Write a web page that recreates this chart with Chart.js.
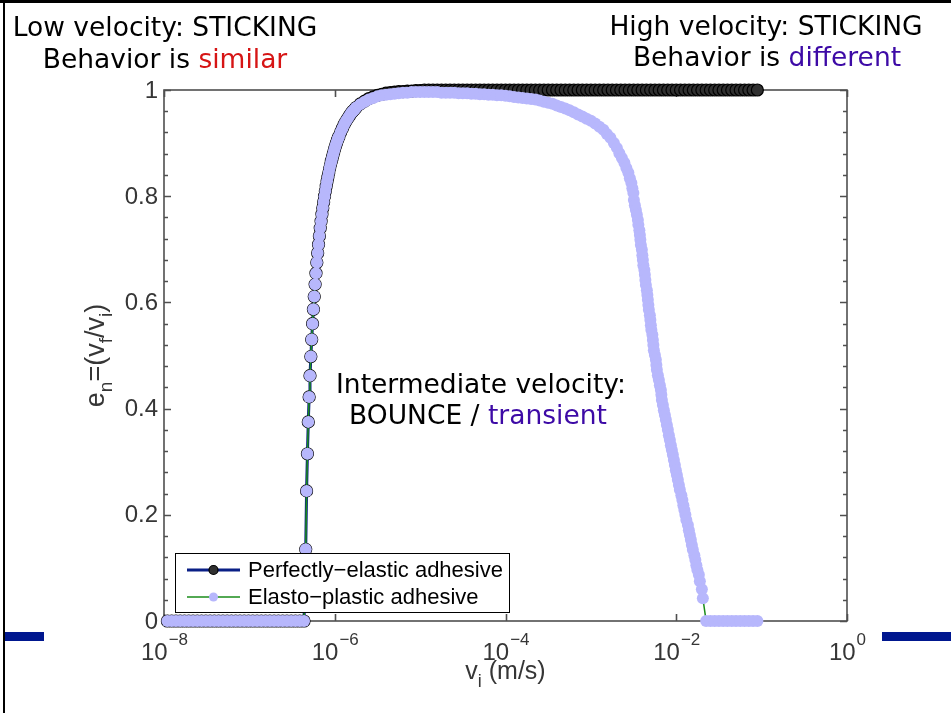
<!DOCTYPE html>
<html>
<head>
<meta charset="utf-8">
<script src="https://cdn.jsdelivr.net/npm/chart.js@4/dist/chart.umd.min.js"></script>
<style>
  html, body { margin: 0; padding: 0; background: #fff; }
  #page { position: relative; width: 951px; height: 713px; overflow: hidden; background: #fff; }
  #plot { position: absolute; left: 0; top: 0; }
  .frame-top { position: absolute; left: 0; top: 0; width: 951px; height: 2.5px; background: #000; }
  .frame-left { position: absolute; left: 3px; top: 0; width: 2px; height: 713px; background: #000; }
  .bar { position: absolute; top: 632px; height: 9px; background: #00178f; }
  .note { position: absolute; font-family: "DejaVu Sans", sans-serif; font-size: 26.5px; line-height: 26.5px;
          white-space: nowrap; color: #000; transform: translateX(-50%); }
  .red { color: #d61515; }
  .violet { color: #3d0aa6; }
</style>
</head>
<body>
<div id="page">
  <canvas id="plot" width="951" height="713"></canvas>
  <div class="frame-top"></div>
  <div class="frame-left"></div>
  <div class="bar" style="left:5px;width:39px"></div>
  <div class="bar" style="left:882px;width:69px"></div>

  <div class="note" style="left:165px;top:13.6px">Low velocity: STICKING</div>
  <div class="note" style="left:165px;top:45.6px">Behavior is <span class="red">similar</span></div>
  <div class="note" style="left:766px;top:12.6px">High velocity: STICKING</div>
  <div class="note" style="left:767px;top:44px">Behavior is <span class="violet">different</span></div>
  <div class="note" style="left:481px;top:370.6px">Intermediate velocity:</div>
  <div class="note" style="left:478px;top:401.6px">BOUNCE / <span class="violet">transient</span></div>
</div>

<script>
// ---- impact velocity v_i (m/s) and restitution e_n ----

// sticking at low velocity (both models)
const lowStickV = [
  1.096e-8, 1.230e-8, 1.380e-8, 1.549e-8, 1.738e-8, 1.950e-8, 2.188e-8, 2.455e-8, 2.754e-8, 3.090e-8,
  3.467e-8, 3.890e-8, 4.365e-8, 4.898e-8, 5.495e-8, 6.166e-8, 6.918e-8, 7.762e-8, 8.710e-8, 9.772e-8,
  1.096e-7, 1.230e-7, 1.380e-7, 1.549e-7, 1.738e-7, 1.950e-7, 2.188e-7, 2.455e-7, 2.754e-7, 3.090e-7,
  3.467e-7, 3.890e-7, 4.365e-7
];
const lowStickE = [
  0, 0, 0, 0, 0, 0, 0, 0, 0, 0,
  0, 0, 0, 0, 0, 0, 0, 0, 0, 0,
  0, 0, 0, 0, 0, 0, 0, 0, 0, 0,
  0, 0, 0
];

// onset of bouncing (both models coincide)
const riseV = [
  4.571e-7, 4.677e-7, 4.786e-7, 4.898e-7, 5.012e-7, 5.129e-7, 5.248e-7, 5.370e-7, 5.495e-7, 5.623e-7,
  5.754e-7, 5.888e-7, 6.026e-7, 6.166e-7, 6.310e-7, 6.457e-7, 6.607e-7, 6.761e-7, 6.918e-7, 7.079e-7,
  7.244e-7, 7.413e-7, 7.586e-7, 7.762e-7, 7.943e-7, 8.128e-7, 8.318e-7, 8.511e-7, 8.710e-7, 8.913e-7,
  9.120e-7, 9.333e-7, 9.550e-7, 9.772e-7, 1.000e-6, 1.023e-6, 1.047e-6, 1.072e-6, 1.096e-6, 1.122e-6,
  1.175e-6, 1.230e-6, 1.288e-6, 1.349e-6, 1.413e-6, 1.479e-6, 1.549e-6, 1.622e-6, 1.698e-6, 1.778e-6
];
const riseE = [
  0.135, 0.245, 0.315, 0.375, 0.422, 0.462, 0.498, 0.530, 0.560, 0.587,
  0.611, 0.634, 0.655, 0.675, 0.693, 0.709, 0.725, 0.740, 0.753, 0.766,
  0.778, 0.789, 0.800, 0.810, 0.819, 0.828, 0.836, 0.844, 0.852, 0.859,
  0.866, 0.872, 0.878, 0.884, 0.890, 0.895, 0.900, 0.905, 0.909, 0.913,
  0.921, 0.928, 0.935, 0.941, 0.946, 0.951, 0.956, 0.960, 0.963, 0.967
];

// plateau near e = 1
const plateauV = [
  1.995e-6, 2.239e-6, 2.512e-6, 2.818e-6, 3.162e-6, 3.548e-6, 3.981e-6, 4.467e-6, 5.012e-6, 5.623e-6,
  6.310e-6, 7.079e-6, 7.943e-6, 8.913e-6, 1.000e-5, 1.122e-5, 1.259e-5, 1.413e-5, 1.585e-5, 1.778e-5,
  1.995e-5, 2.239e-5, 2.512e-5, 2.818e-5, 3.162e-5, 3.548e-5, 3.981e-5, 4.467e-5, 5.012e-5, 5.623e-5,
  6.310e-5, 7.079e-5, 7.943e-5, 8.913e-5, 1.000e-4, 1.122e-4, 1.259e-4, 1.413e-4, 1.585e-4, 1.778e-4,
  1.995e-4, 2.239e-4, 2.512e-4, 2.818e-4, 3.162e-4, 3.548e-4, 3.981e-4, 4.467e-4, 5.012e-4, 5.623e-4,
  6.310e-4, 7.079e-4, 7.943e-4, 8.913e-4, 1.000e-3, 1.122e-3, 1.259e-3
];
const elasticPlateauE = [
  0.974, 0.979, 0.984, 0.987, 0.990, 0.992, 0.994, 0.995, 0.996, 0.997,
  0.997, 0.998, 0.998, 0.999, 0.999, 1, 1, 1, 1, 1,
  1, 1, 1, 1, 1, 1, 1, 1, 1, 1,
  1, 1, 1, 1, 1, 1, 1, 1, 1, 1,
  1, 1, 1, 1, 1, 1, 1, 1, 1, 1,
  1, 1, 1, 1, 1, 1, 1
];
const plasticPlateauE = [
  0.973, 0.978, 0.982, 0.985, 0.988, 0.990, 0.991, 0.992, 0.993, 0.994,
  0.995, 0.995, 0.996, 0.996, 0.996, 0.996, 0.996, 0.996, 0.996, 0.995,
  0.995, 0.995, 0.995, 0.994, 0.994, 0.994, 0.993, 0.993, 0.992, 0.992,
  0.991, 0.991, 0.990, 0.990, 0.989, 0.988, 0.987, 0.986, 0.985, 0.984,
  0.983, 0.982, 0.980, 0.978, 0.976, 0.974, 0.971, 0.968, 0.965, 0.962,
  0.958, 0.954, 0.950, 0.946, 0.942, 0.937, 0.931
];

// perfectly-elastic adhesive keeps e = 1 up to the end of the sweep
const elasticTailV = [
  1.413e-3, 1.585e-3, 1.778e-3, 1.995e-3, 2.239e-3, 2.512e-3, 2.818e-3, 3.162e-3, 3.548e-3, 3.981e-3,
  4.467e-3, 5.012e-3, 5.623e-3, 6.310e-3, 7.079e-3, 7.943e-3, 8.913e-3, 1.000e-2, 1.122e-2, 1.259e-2,
  1.413e-2, 1.585e-2, 1.778e-2, 1.995e-2, 2.239e-2, 2.512e-2, 2.818e-2, 3.162e-2, 3.548e-2, 3.981e-2,
  4.467e-2, 5.012e-2, 5.623e-2, 6.310e-2, 7.079e-2, 7.943e-2, 8.913e-2
];
const elasticTailE = [
  1, 1, 1, 1, 1, 1, 1, 1, 1, 1,
  1, 1, 1, 1, 1, 1, 1, 1, 1, 1,
  1, 1, 1, 1, 1, 1, 1, 1, 1, 1,
  1, 1, 1, 1, 1, 1, 1
];

// elasto-plastic adhesive: restitution falls off at high velocity
const plasticDropV = [
  1.401e-3, 1.539e-3, 1.692e-3, 1.859e-3, 2.016e-3, 2.157e-3, 2.307e-3, 2.468e-3, 2.604e-3, 2.749e-3,
  2.862e-3, 2.981e-3, 3.062e-3, 3.146e-3, 3.188e-3, 3.275e-3, 3.365e-3, 3.457e-3, 3.551e-3, 3.599e-3,
  3.698e-3, 3.748e-3, 3.799e-3, 3.850e-3, 3.956e-3, 4.010e-3, 4.064e-3, 4.119e-3, 4.232e-3, 4.289e-3,
  4.347e-3, 4.406e-3, 4.527e-3, 4.588e-3, 4.650e-3, 4.713e-3, 4.777e-3, 4.908e-3, 4.975e-3, 5.042e-3,
  5.110e-3, 5.251e-3, 5.322e-3, 5.395e-3, 5.468e-3, 5.617e-3, 5.771e-3, 5.849e-3, 5.928e-3, 6.090e-3,
  6.256e-3, 6.427e-3, 6.603e-3, 6.693e-3, 6.784e-3, 6.969e-3, 7.160e-3, 7.355e-3, 7.556e-3, 7.762e-3,
  7.974e-3, 8.192e-3, 8.416e-3, 8.646e-3, 8.882e-3, 9.127e-3, 9.376e-3, 9.632e-3, 9.895e-3, 1.017e-2,
  1.044e-2, 1.073e-2, 1.102e-2, 1.148e-2, 1.179e-2, 1.211e-2, 1.245e-2, 1.279e-2, 1.313e-2, 1.368e-2,
  1.405e-2, 1.443e-2, 1.483e-2, 1.523e-2, 1.565e-2, 1.630e-2, 1.674e-2, 1.720e-2, 1.767e-2, 1.840e-2,
  1.890e-2, 1.995e-2, 2.049e-2
];
const plasticDropE = [
  0.925, 0.917, 0.910, 0.900, 0.891, 0.881, 0.872, 0.863, 0.853, 0.844,
  0.834, 0.825, 0.815, 0.806, 0.793, 0.783, 0.774, 0.765, 0.755, 0.746,
  0.736, 0.727, 0.718, 0.708, 0.699, 0.689, 0.680, 0.670, 0.661, 0.652,
  0.642, 0.633, 0.623, 0.614, 0.605, 0.595, 0.586, 0.576, 0.567, 0.557,
  0.548, 0.539, 0.529, 0.520, 0.510, 0.501, 0.492, 0.482, 0.473, 0.463,
  0.454, 0.444, 0.435, 0.426, 0.416, 0.407, 0.397, 0.388, 0.379, 0.369,
  0.360, 0.350, 0.341, 0.331, 0.322, 0.313, 0.303, 0.294, 0.284, 0.275,
  0.266, 0.256, 0.247, 0.237, 0.228, 0.218, 0.209, 0.200, 0.190, 0.181,
  0.171, 0.162, 0.153, 0.143, 0.134, 0.124, 0.115, 0.105, 0.096, 0.087,
  0.075, 0.060, 0.043
];

// sticking again at high velocity (elasto-plastic only)
const highStickV = [
  2.239e-2, 2.512e-2, 2.818e-2, 3.162e-2, 3.548e-2, 3.981e-2, 4.467e-2, 5.012e-2, 5.623e-2, 6.310e-2,
  7.079e-2, 7.943e-2, 8.913e-2
];
const highStickE = [0, 0, 0, 0, 0, 0, 0, 0, 0, 0, 0, 0, 0];

// axis ticks
const xTickValues = [1e-8, 1e-6, 1e-4, 1e-2, 1];
const xTickExponents = ['\u22128', '\u22126', '\u22124', '\u22122', '0'];
const yTickValues = [0, 0.2, 0.4, 0.6, 0.8, 1];
const yTickLabels = ['0', '0.2', '0.4', '0.6', '0.8', '1'];
const yMinorStep = 0.04;

const seriesNames = ['Perfectly\u2212elastic adhesive', 'Elasto\u2212plastic adhesive'];

// ---- styling ----
const NAVY = '#0a1f86';
const GREEN = '#1a8c1a';
const DARK_MARKER = '#303030';
const LAVENDER = '#b7b7fc';
const AXIS_COLOR = '#4f4f4f';
const TICK_TEXT = '#363636';
const FONT = '"Liberation Sans", Arial, sans-serif';

function points(vs, es) {
  return vs.map((v, i) => ({ x: v, y: es[i] }));
}

const elasticData = [
  ...points(lowStickV, lowStickE),
  ...points(riseV, riseE),
  ...points(plateauV, elasticPlateauE),
  ...points(elasticTailV, elasticTailE)
];
const plasticData = [
  ...points(lowStickV, lowStickE),
  ...points(riseV, riseE),
  ...points(plateauV, plasticPlateauE),
  ...points(plasticDropV, plasticDropE),
  ...points(highStickV, highStickE)
];

// write a run of text pieces, some of them lowered as subscripts, centred on cx
function drawRich(ctx, parts, cx, baseY, mainPx, subPx, drop) {
  let total = 0;
  parts.forEach(p => { ctx.font = (p[1] ? subPx : mainPx) + 'px ' + FONT; total += ctx.measureText(p[0]).width; });
  let cur = cx - total / 2;
  parts.forEach(p => {
    ctx.font = (p[1] ? subPx : mainPx) + 'px ' + FONT;
    ctx.fillText(p[0], cur, baseY + (p[1] ? drop : 0));
    cur += ctx.measureText(p[0]).width;
  });
}

// box, ticks, tick labels and axis titles in the classic boxed style
const boxedAxes = {
  id: 'boxedAxes',
  beforeDatasetsDraw(chart) {
    const { ctx, chartArea: a, scales: { x, y } } = chart;
    ctx.save();
    ctx.strokeStyle = AXIS_COLOR;
    ctx.lineWidth = 1.6;
    ctx.strokeRect(a.left, a.top, a.right - a.left, a.bottom - a.top);

    ctx.beginPath();
    for (let t = yMinorStep; t < 1; t += yMinorStep) {
      const py = Math.round(y.getPixelForValue(t)) + 0.5;
      ctx.moveTo(a.left, py); ctx.lineTo(a.left + 4, py);
      ctx.moveTo(a.right, py); ctx.lineTo(a.right - 4, py);
    }
    yTickValues.forEach(t => {
      const py = Math.round(y.getPixelForValue(t)) + 0.5;
      ctx.moveTo(a.left, py); ctx.lineTo(a.left + 7, py);
      ctx.moveTo(a.right, py); ctx.lineTo(a.right - 7, py);
    });
    xTickValues.forEach(t => {
      const px = Math.round(x.getPixelForValue(t)) + 0.5;
      ctx.moveTo(px, a.bottom); ctx.lineTo(px, a.bottom - 7);
      ctx.moveTo(px, a.top); ctx.lineTo(px, a.top + 7);
    });
    ctx.stroke();

    // y tick labels
    ctx.fillStyle = TICK_TEXT;
    ctx.font = '24px ' + FONT;
    ctx.textAlign = 'right';
    ctx.textBaseline = 'middle';
    yTickValues.forEach((t, i) => ctx.fillText(yTickLabels[i], a.left - 6, y.getPixelForValue(t) + 1));

    // x tick labels as powers of ten
    ctx.textAlign = 'left';
    ctx.textBaseline = 'alphabetic';
    xTickValues.forEach((t, i) => {
      const px = x.getPixelForValue(t);
      ctx.font = '24px ' + FONT;
      const wb = ctx.measureText('10').width;
      ctx.font = '17px ' + FONT;
      const we = ctx.measureText(xTickExponents[i]).width;
      const x0 = px - (wb + we) / 2;
      ctx.font = '24px ' + FONT;
      ctx.fillText('10', x0, a.bottom + 39);
      ctx.font = '17px ' + FONT;
      ctx.fillText(xTickExponents[i], x0 + wb + 1, a.bottom + 24);
    });

    // axis titles
    drawRich(ctx, [['v', false], ['i', true], [' (m/s)', false]], (a.left + a.right) / 2, a.bottom + 58, 25, 18, 8);

    ctx.translate(104, (a.top + a.bottom) / 2);
    ctx.rotate(-Math.PI / 2);
    drawRich(ctx, [['e', false], ['n', true], ['=(v', false], ['f', true], ['/v', false], ['i', true], [')', false]], 0, 0, 27, 19, 8);
    ctx.restore();
  },
  afterDatasetsDraw(chart) {
    const { ctx } = chart;
    const ds = chart.data.datasets;
    const box = { left: 175.5, top: 553.5, width: 334, height: 59 };
    ctx.save();
    ctx.fillStyle = '#ffffff';
    ctx.fillRect(box.left, box.top, box.width, box.height);
    ctx.strokeStyle = '#000000';
    ctx.lineWidth = 1;
    ctx.strokeRect(box.left, box.top, box.width, box.height);

    const rows = [
      { set: ds[1], y: 570 },
      { set: ds[0], y: 597 }
    ];
    rows.forEach(r => {
      ctx.beginPath();
      ctx.strokeStyle = r.set.borderColor;
      ctx.lineWidth = r.set.borderWidth;
      ctx.moveTo(187, r.y); ctx.lineTo(240, r.y);
      ctx.stroke();
      ctx.beginPath();
      ctx.arc(213.5, r.y, 4.5, 0, Math.PI * 2);
      ctx.fillStyle = r.set.pointBackgroundColor;
      ctx.fill();
      if (r.set.pointBorderWidth > 0) {
        ctx.lineWidth = r.set.pointBorderWidth;
        ctx.strokeStyle = r.set.pointBorderColor;
        ctx.stroke();
      }
      ctx.fillStyle = '#000000';
      ctx.font = '22px ' + FONT;
      ctx.textAlign = 'left';
      ctx.textBaseline = 'middle';
      ctx.fillText(r.set.label, 248, r.y + 1);
    });
    ctx.restore();
  }
};

new Chart(document.getElementById('plot'), {
  type: 'scatter',
  data: {
    datasets: [
      {
        label: seriesNames[1],
        data: plasticData,
        showLine: true,
        borderColor: GREEN,
        borderWidth: 1.5,
        pointRadius: 6,
        pointBackgroundColor: LAVENDER,
        pointBorderColor: LAVENDER,
        pointBorderWidth: 0,
        clip: false,
        order: 0
      },
      {
        label: seriesNames[0],
        data: elasticData,
        showLine: true,
        borderColor: NAVY,
        borderWidth: 3,
        pointRadius: 6,
        pointBackgroundColor: DARK_MARKER,
        pointBorderColor: '#000000',
        pointBorderWidth: 1.2,
        clip: false,
        order: 1
      }
    ]
  },
  options: {
    responsive: false,
    animation: false,
    events: [],
    layout: { padding: { left: 164, right: 104, top: 90, bottom: 92 } },
    scales: {
      x: { type: 'logarithmic', min: 1e-8, max: 1, display: false },
      y: { type: 'linear', min: 0, max: 1, display: false }
    },
    plugins: { legend: { display: false }, tooltip: { enabled: false } }
  },
  plugins: [boxedAxes]
});
</script>
</body>
</html>
